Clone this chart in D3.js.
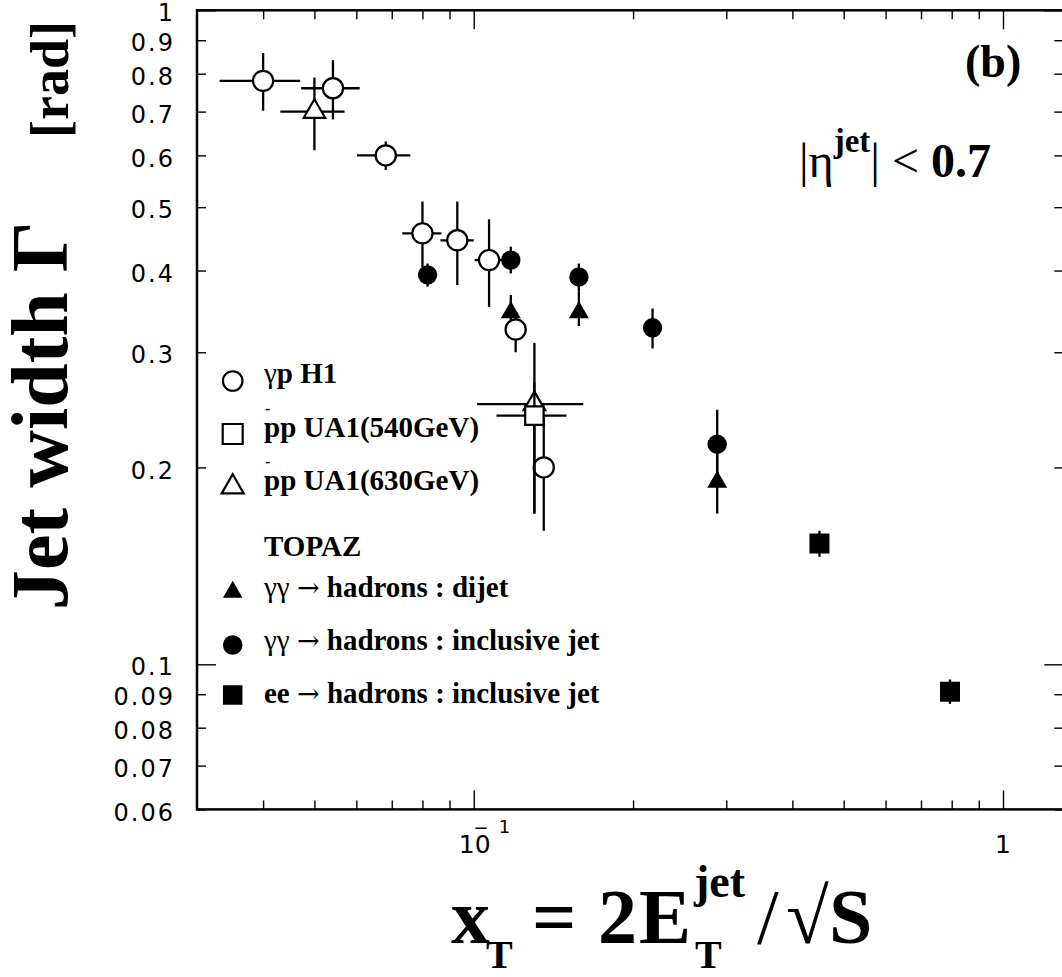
<!DOCTYPE html>
<html>
<head>
<meta charset="utf-8">
<script src="https://cdn.jsdelivr.net/npm/d3@7"></script>
<style>
  body { margin: 0; background: #fff; }
  svg { display: block; }
  text { white-space: pre; }
</style>
</head>
<body>
<svg id="chart" width="1062" height="977"></svg>
<script>
(function(d3) {
  "use strict";

  /***** Données *****/
  // γp H1 (cercles ouverts)
  var h1X = [0.040, 0.0542, 0.0682, 0.080, 0.0931, 0.1069, 0.120, 0.1356];
  var h1Y = [0.78, 0.76, 0.60, 0.456, 0.445, 0.415, 0.325, 0.200];
  var h1XErr = [[0.0331, 0.047], [0.0472, 0.0609], [0.0602, 0.0759], [0.0733, 0.0869],
                [0.0865, 0.100], [0.1004, 0.1128], [0.1146, 0.1258], [0.1295, 0.142]];
  var h1YErr = [[0.702, 0.86], [0.681, 0.839], [0.57, 0.63], [0.405, 0.51],
                [0.380, 0.51], [0.352, 0.479], [0.30, 0.345], [0.16, 0.239]];

  // pp UA1 540 GeV (carré ouvert)
  var ua540X = [0.1302];
  var ua540Y = [0.240];
  var ua540XErr = [[0.1104, 0.1497]];
  var ua540YErr = [[0.17, 0.27]];

  // pp UA1 630 GeV (triangles ouverts)
  var ua630X = [0.050, 0.1302];
  var ua630Y = [0.70, 0.250];
  var ua630XErr = [[0.0431, 0.057], [0.1015, 0.161]];
  var ua630YErr = [[0.611, 0.789], [0.17, 0.31]];

  // TOPAZ γγ -> hadrons : dijet (triangles pleins)
  var dijetX = [0.1175, 0.158, 0.2884];
  var dijetY = [0.345, 0.345, 0.190];
  var dijetYErr = [[0.325, 0.367], [0.329, 0.372], [0.17, 0.215]];

  // TOPAZ γγ -> hadrons : inclusive jet (cercles pleins)
  var inclX = [0.0818, 0.1175, 0.158, 0.2177, 0.2884];
  var inclY = [0.394, 0.415, 0.391, 0.327, 0.217];
  var inclYErr = [[0.378, 0.41], [0.396, 0.435], [0.372, 0.41], [0.304, 0.35], [0.19, 0.245]];

  // ee -> hadrons : inclusive jet (carrés pleins)
  var eeX = [0.45, 0.794];
  var eeY = [0.153, 0.0908];
  var eeYErr = [[0.146, 0.16], [0.087, 0.0948]];

  // Graduations
  var xMinorTicks = [0.04, 0.05, 0.06, 0.07, 0.08, 0.09, 0.2, 0.3, 0.4, 0.5, 0.6, 0.7, 0.8, 0.9];
  var xMajorTicks = [0.1, 1];
  var yTicks = [0.06, 0.07, 0.08, 0.09, 0.1, 0.2, 0.3, 0.4, 0.5, 0.6, 0.7, 0.8, 0.9, 1];
  var yMajorTicks = [0.1, 1];

  /***** Configuration *****/
  var left = 197, right = 1063.3, top = 10.3, bottom = 809.4;
  var serif = "'Liberation Serif', 'Times New Roman', serif";
  var sans = "'DejaVu Sans', sans-serif";

  var x = d3.scaleLog().domain([0.03, 1.3]).range([left, right]);
  var y = d3.scaleLog().domain([0.06, 1]).range([bottom, top]);

  var svg = d3.select("#chart");
  svg.append("rect").attr("width", 1062).attr("height", 977).attr("fill", "#fff");

  /***** Axes *****/
  function ticks(axis, pos, values, len) {
    var g = svg.append("g")
      .attr("transform", pos)
      .call(axis.tickValues(values).tickSize(-len).tickFormat(""));
    g.select(".domain").remove();
    g.selectAll(".tick line").attr("stroke", "#000").attr("stroke-width", 1.4);
    return g;
  }
  var yMinor = yTicks.filter(function(v) { return yMajorTicks.indexOf(v) < 0; });

  ticks(d3.axisBottom(x), "translate(0," + bottom + ")", xMinorTicks, 9);
  ticks(d3.axisBottom(x), "translate(0," + bottom + ")", xMajorTicks, 19);
  ticks(d3.axisTop(x), "translate(0," + top + ")", xMinorTicks, 9);
  ticks(d3.axisTop(x), "translate(0," + top + ")", xMajorTicks, 19);
  ticks(d3.axisRight(y), "translate(" + right + ",0)", yMinor, 9);
  ticks(d3.axisRight(y), "translate(" + right + ",0)", yMajorTicks, 19);
  ticks(d3.axisLeft(y), "translate(" + left + ",0)", yMinor, 9);
  ticks(d3.axisLeft(y), "translate(" + left + ",0)", yMajorTicks, 19);

  // étiquettes de l'axe y
  var yLab = svg.append("g")
    .attr("transform", "translate(" + left + ",0)")
    .call(d3.axisLeft(y).tickValues(yTicks).tickSize(0).tickPadding(22)
      .tickFormat(function(d) { return d === 1 ? "1" : (d < 0.1 ? d.toFixed(2) : d.toFixed(1)); }));
  yLab.select(".domain").remove();
  yLab.selectAll(".tick text")
    .attr("dy", "0.445em")
    .attr("font-family", sans)
    .attr("font-size", 24)
    .attr("letter-spacing", 2)
    .attr("fill", "#000");

  // étiquettes de l'axe x : 10^-1 et 1
  var t01 = svg.append("text")
    .attr("x", x(0.1) - 15).attr("y", 853)
    .attr("font-family", sans).attr("font-size", 25);
  t01.append("tspan").text("10");
  t01.append("tspan").attr("font-size", 18).attr("dx", -17).attr("dy", -19).text("\u2212");
  t01.append("tspan").attr("font-size", 18).attr("dx", 10).attr("dy", -1).text("1");

  svg.append("text")
    .attr("x", x(1)).attr("y", 853)
    .attr("text-anchor", "middle")
    .attr("font-family", sans).attr("font-size", 25)
    .text("1");

  // cadre
  svg.append("rect")
    .attr("x", left).attr("y", top)
    .attr("width", right - left).attr("height", bottom - top)
    .attr("fill", "none").attr("stroke", "#000").attr("stroke-width", 2.5);

  /***** Points *****/
  var plot = svg.append("g");

  function drawSeries(xs, ys, xErr, yErr, type, size, filled) {
    var g = plot.append("g");
    xs.forEach(function(xv, i) {
      if (xErr) {
        g.append("line")
          .attr("x1", x(xErr[i][0])).attr("x2", x(xErr[i][1]))
          .attr("y1", y(ys[i])).attr("y2", y(ys[i]))
          .attr("stroke", "#000").attr("stroke-width", 2.3);
      }
      if (yErr) {
        g.append("line")
          .attr("x1", x(xv)).attr("x2", x(xv))
          .attr("y1", y(yErr[i][0])).attr("y2", y(yErr[i][1]))
          .attr("stroke", "#000").attr("stroke-width", 2.3);
      }
    });
    g.selectAll("path.m")
      .data(xs)
      .enter().append("path")
      .attr("class", "m")
      .attr("d", d3.symbol().type(type).size(size))
      .attr("transform", function(d, i) { return "translate(" + x(d) + "," + y(ys[i]) + ")"; })
      .attr("fill", filled ? "#000" : "#fff")
      .attr("stroke", filled ? "none" : "#000")
      .attr("stroke-width", 2.2);
  }

  drawSeries(dijetX, dijetY, null, dijetYErr, d3.symbolTriangle, 173, true);
  drawSeries(inclX, inclY, null, inclYErr, d3.symbolCircle, 295, true);
  drawSeries(eeX, eeY, null, eeYErr, d3.symbolSquare, 400, true);
  drawSeries(h1X, h1Y, h1XErr, h1YErr, d3.symbolCircle, 320, false);
  drawSeries(ua630X, ua630Y, ua630XErr, ua630YErr, d3.symbolTriangle, 200, false);
  drawSeries(ua540X, ua540Y, ua540XErr, ua540YErr, d3.symbolSquare, 340, false);

  /***** Légende *****/
  var leg = svg.append("g")
    .attr("font-family", serif).attr("font-size", 29).attr("font-weight", "bold");
  var symX = 232.7, txtX = 264;

  function legSym(yc, type, size, filled) {
    leg.append("path")
      .attr("d", d3.symbol().type(type).size(size))
      .attr("transform", "translate(" + symX + "," + yc + ")")
      .attr("fill", filled ? "#000" : "#fff")
      .attr("stroke", filled ? "none" : "#000")
      .attr("stroke-width", 2.2);
  }
  function legText(yb, parts) {
    var t = leg.append("text").attr("x", txtX).attr("y", yb);
    parts.forEach(function(p) {
      var s = t.append("tspan").attr("font-weight", p[1] ? "bold" : "normal").text(p[0]);
      if (p[2]) s.attr("font-family", "'DejaVu Serif', serif").attr("font-size", 27);
    });
    return t;
  }

  legSym(381, d3.symbolCircle, 300, false);
  legText(383.3, [["\u03b3", false], ["p H1", true]]);

  legSym(434, d3.symbolSquare, 400, false);
  legText(436.7, [["pp UA1(540GeV)", true]]);
  leg.append("text").attr("x", txtX + 1).attr("y", 414).attr("font-size", 16).text("-");

  legSym(487, d3.symbolTriangle, 210, false);
  legText(490, [["pp UA1(630GeV)", true]]);
  leg.append("text").attr("x", txtX + 1).attr("y", 467.3).attr("font-size", 16).text("-");

  legText(556, [["TOPAZ", true]]);

  legSym(592, d3.symbolTriangle, 165, true);
  legText(596.5, [["\u03b3\u03b3 ", false], ["\u2192", false, true], [" hadrons : dijet", true]]);

  legSym(645, d3.symbolCircle, 300, true);
  legText(649.5, [["\u03b3\u03b3 ", false], ["\u2192", false, true], [" hadrons : inclusive jet", true]]);

  legSym(695, d3.symbolSquare, 380, true);
  legText(702.5, [["ee ", true], ["\u2192", false, true], [" hadrons : inclusive jet", true]]);

  /***** Annotations *****/
  svg.append("text")
    .attr("x", 965).attr("y", 77)
    .attr("font-family", serif).attr("font-size", 46).attr("font-weight", "bold")
    .text("(b)");

  var eta = svg.append("text")
    .attr("x", 799).attr("y", 177)
    .attr("font-family", serif).attr("font-size", 48);
  eta.append("tspan").text("|\u03b7");
  eta.append("tspan").attr("font-size", 33).attr("font-weight", "bold").attr("dy", -25).text("jet");
  eta.append("tspan").attr("dy", 25).text("| < ");
  eta.append("tspan").attr("font-weight", "bold").text("0.7");

  /***** Titres des axes *****/
  svg.append("text")
    .attr("transform", "translate(67,610) rotate(-90)")
    .attr("font-family", serif).attr("font-size", 80).attr("font-weight", "bold")
    .text("Jet width \u0393");

  svg.append("text")
    .attr("transform", "translate(68,138) rotate(-90)")
    .attr("font-family", serif).attr("font-size", 54).attr("font-weight", "bold")
    .text("[rad]");

  var xt = svg.append("text")
    .attr("y", 943)
    .attr("font-family", serif).attr("font-size", 78).attr("font-weight", "bold");
  xt.append("tspan").attr("x", 451).text("x");
  xt.append("tspan").attr("x", 486).attr("font-size", 40).attr("dy", 25).text("T");
  xt.append("tspan").attr("x", 532).attr("dy", -25).text("=");
  xt.append("tspan").attr("x", 598).text("2");
  xt.append("tspan").attr("x", 639).text("E");
  xt.append("tspan").attr("x", 695).attr("font-size", 40).attr("dy", 25).text("T");
  xt.append("tspan").attr("x", 694).attr("font-size", 46).attr("dy", -71).text("jet");
  xt.append("tspan").attr("x", 757).attr("font-weight", "normal").attr("dy", 46).text("/");
  xt.append("tspan").attr("x", 786).attr("font-weight", "normal").text("\u221a");
  xt.append("tspan").attr("x", 829).text("S");

})(d3);
</script>
</body>
</html>
